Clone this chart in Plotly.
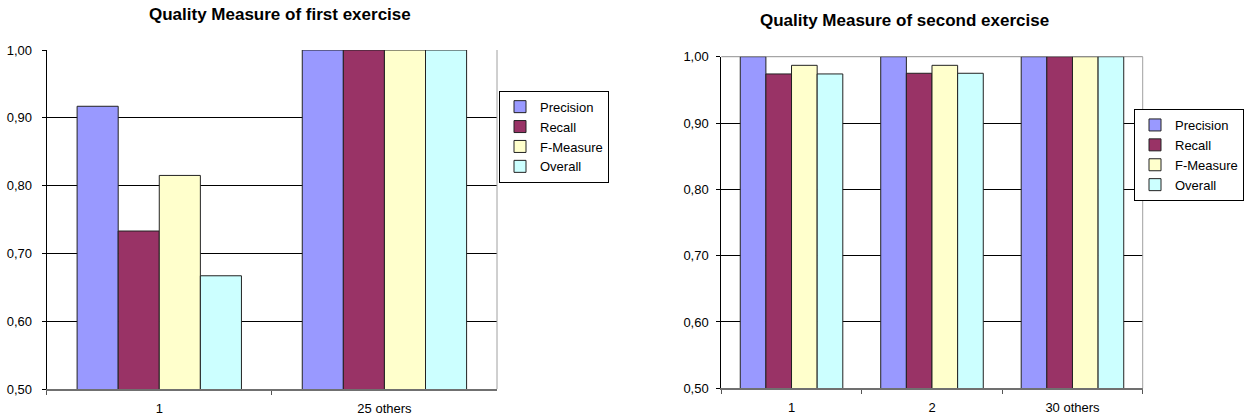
import plotly.graph_objects as go

W, H = 1246, 416

series = ["Precision", "Recall", "F-Measure", "Overall"]
colors = ["#9999FF", "#993366", "#FFFFCC", "#CCFFFF"]

# First exercise
cats1 = ["1", "25 others"]
precision1 = [0.917, 1.0]
recall1 = [0.733, 1.0]
fmeasure1 = [0.815, 1.0]
overall1 = [0.667, 1.0]

# Second exercise
cats2 = ["1", "2", "30 others"]
precision2 = [1.0, 1.0, 1.0]
recall2 = [0.974, 0.975, 1.0]
fmeasure2 = [0.987, 0.987, 1.0]
overall2 = [0.974, 0.975, 1.0]

title1 = "Quality Measure of first exercise"
title2 = "Quality Measure of second exercise"

FONT = "Liberation Sans, Arial, sans-serif"

fig = go.Figure()

vals1 = [precision1, recall1, fmeasure1, overall1]
vals2 = [precision2, recall2, fmeasure2, overall2]

for name, col, v in zip(series, colors, vals1):
    fig.add_trace(go.Bar(
        x=cats1, y=v, name=name, marker=dict(color=col, line=dict(color="#222222", width=1)),
        xaxis="x", yaxis="y", legend="legend", legendgroup=name + "1", hoverinfo="x+y+name"))

for name, col, v in zip(series, colors, vals2):
    fig.add_trace(go.Bar(
        x=cats2, y=v, name=name, marker=dict(color=col, line=dict(color="#222222", width=1)),
        xaxis="x2", yaxis="y2", legend="legend2", legendgroup=name + "2", hoverinfo="x+y+name"))


def px_x(a, b):
    return [a / W, b / W]


def px_y(top, bottom):
    return [(H - bottom) / H, (H - top) / H]


def xaxis_common():
    return dict(
        type="category", showline=True, linecolor="#707070", linewidth=2,
        ticks="outside", tickson="boundaries", ticklen=4, tickcolor="#555555",
        showgrid=False, zeroline=False, ticklabelstandoff=6, automargin=False,
        tickfont=dict(family=FONT, size=13, color="black"), fixedrange=True,
    )


def yaxis_common(standoff):
    return dict(
        range=[0.5, 1.0], dtick=0.1, tick0=0.5, tickformat=".2f",
        showline=True, linecolor="black", linewidth=1,
        ticks="outside", ticklen=4, tickcolor="black",
        showgrid=True, gridcolor="black", gridwidth=1, zeroline=False,
        ticklabelstandoff=standoff, automargin=False,
        tickfont=dict(family=FONT, size=13, color="black"), fixedrange=True,
    )


legend_common = dict(
    xanchor="left", yanchor="top",
    bordercolor="black", borderwidth=1, bgcolor="white",
    font=dict(family=FONT, size=13, color="black"),
    itemwidth=30, tracegroupgap=5, traceorder="normal",
)

fig.update_layout(
    template="none",
    width=W, height=H,
    margin=dict(l=0, r=0, t=0, b=0, pad=0, autoexpand=False),
    paper_bgcolor="white", plot_bgcolor="white",
    separators=",.",
    barmode="group", bargap=0.27, bargroupgap=0,
    font=dict(family=FONT, color="black"),
    xaxis=dict(domain=px_x(46.7, 497), anchor="y", **xaxis_common()),
    yaxis=dict(domain=px_y(50, 389), anchor="x", **yaxis_common(7)),
    xaxis2=dict(domain=px_x(721.3, 1142.7), anchor="y2", **xaxis_common()),
    yaxis2=dict(domain=px_y(56.7, 388.3), anchor="x2", **yaxis_common(5)),
    legend=dict(x=499 / W, y=(H - 90.7) / H, **legend_common),
    legend2=dict(x=1134 / W, y=(H - 109) / H, **legend_common),
    showlegend=True,
    annotations=[
        dict(text="<b>" + title1 + "</b>", x=280 / W, y=(H - 15) / H, xref="paper", yref="paper",
             xanchor="center", yanchor="middle", showarrow=False,
             font=dict(family=FONT, size=17, color="black")),
        dict(text="<b>" + title2 + "</b>", x=904 / W, y=(H - 20) / H, xref="paper", yref="paper",
             xanchor="center", yanchor="middle", showarrow=False,
             font=dict(family=FONT, size=17, color="black")),
    ],
    shapes=[
        dict(type="line", xref="x domain", yref="y domain", x0=1, x1=1, y0=0, y1=1,
             line=dict(color="#A0A0A0", width=1), layer="above"),
        dict(type="line", xref="x2 domain", yref="y2 domain", x0=1, x1=1, y0=0, y1=1,
             line=dict(color="#A0A0A0", width=1), layer="above"),
        dict(type="line", xref="x2 domain", yref="y2 domain", x0=0, x1=1, y0=1, y1=1,
             line=dict(color="#909090", width=1), layer="below"),
    ],
)

fig.write_html(
    "out.html",
    config={"displayModeBar": False},
    post_script="document.body.style.margin='0px'; document.body.style.overflow='hidden';",
)
